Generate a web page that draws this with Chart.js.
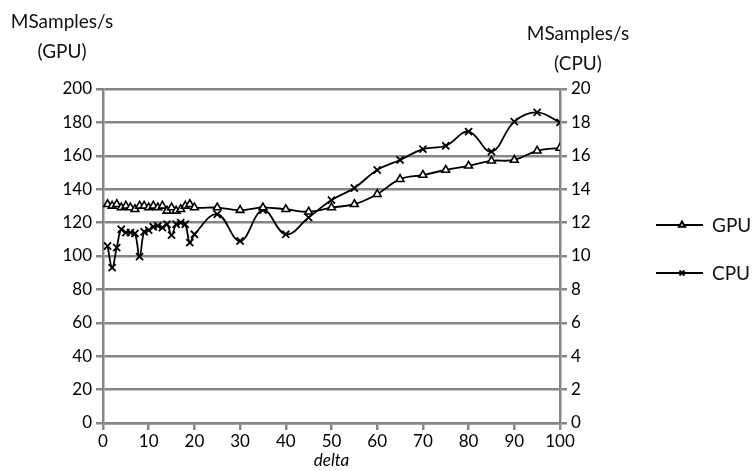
<!DOCTYPE html>
<html>
<head>
<meta charset="utf-8">
<script src="https://cdn.jsdelivr.net/npm/chart.js@4"></script>
<style>
body{margin:0;background:#fff;font-family:Lato,'Open Sans',sans-serif;}
#wrap{position:relative;width:756px;height:471px;overflow:hidden;}
.ttl{position:absolute;font-size:19px;color:#111;text-align:center;line-height:30px;}
</style>
</head>
<body>
<div id="wrap">
<canvas id="c"></canvas>
<div class="ttl" style="left:2px;top:6px;width:120px;">MSamples/s<br>(GPU)</div>
<div class="ttl" style="left:518px;top:18px;width:120px;">MSamples/s<br>(CPU)</div>
</div>
<script>
// delta values (x)
const deltas=[1,2,3,4,5,6,7,8,9,10,11,12,13,14,15,16,17,18,19,20,25,30,35,40,45,50,55,60,65,70,75,80,85,90,95,100];
// left axis, MSamples/s
const gpuVals=[131,130,131,129,130,129,128,130,130,129,130,129,130,127,129,127,128,130,131,129,129,127.5,129,128,126.5,129,131,137,146,148.5,151.5,154,157,157.5,163,164.7];
// right axis, MSamples/s
const cpuVals=[10.6,9.3,10.5,11.6,11.4,11.4,11.35,9.96,11.45,11.55,11.75,11.8,11.7,11.9,11.25,11.9,12.0,11.9,10.8,11.3,12.5,10.9,12.75,11.3,12.3,13.35,14.07,15.15,15.75,16.4,16.6,17.45,16.25,18.05,18.6,18.0];
const seriesNames=['GPU','CPU'];

const gridCol='#868686';
const tickFont={family:'Lato',size:17};

// legend on the right: line with marker in the middle, then the name
const legendPlugin={
id:'sideLegend',
afterDraw(chart){
const ctx=chart.ctx;
const ys=[225,273];
chart.data.datasets.forEach((ds,i)=>{
const y=ys[i];
ctx.save();
ctx.strokeStyle='#000';ctx.lineWidth=2;
ctx.beginPath();ctx.moveTo(656,y);ctx.lineTo(703,y);ctx.stroke();
ctx.fillStyle='#fff';ctx.strokeStyle='#000';
Chart.helpers.drawPoint(ctx,{pointStyle:ds.pointStyle,radius:3.5,borderWidth:1.5},682,y);
ctx.fillStyle='#111';ctx.font='19px Lato';ctx.textBaseline='middle';
ctx.fillText(ds.label,712,y+1);
ctx.restore();
});
}
};

new Chart(document.getElementById('c'),{
type:'line',
data:{datasets:[
{label:seriesNames[0],data:deltas.map((d,i)=>({x:d,y:gpuVals[i]})),yAxisID:'y',borderColor:'#000',borderWidth:1.8,
pointStyle:'triangle',pointRadius:4.5,pointBackgroundColor:'#fff',pointBorderColor:'#000',pointBorderWidth:1.6,tension:0.4},
{label:seriesNames[1],data:deltas.map((d,i)=>({x:d,y:cpuVals[i]})),yAxisID:'y1',borderColor:'#000',borderWidth:1.8,
pointStyle:'crossRot',pointRadius:5,pointBorderColor:'#000',pointBorderWidth:1.8,tension:0.4}
]},
options:{
responsive:true,maintainAspectRatio:false,animation:false,
layout:{padding:{top:89,right:156,left:0,bottom:0}},
plugins:{legend:{display:false},tooltip:{enabled:false}},
scales:{
x:{type:'linear',min:0,max:100,
ticks:{stepSize:10,color:'#000',font:tickFont,padding:1,maxRotation:0},
grid:{drawOnChartArea:false,color:gridCol,lineWidth:2.5,tickLength:7},
border:{color:gridCol,width:2.5},
title:{display:true,text:'delta',color:'#000',font:{family:'Lato',size:17,style:'italic'},padding:{top:0,bottom:0}},
afterFit(s){s.height=48;}
},
y:{position:'left',min:0,max:200,
ticks:{stepSize:20,color:'#000',font:tickFont,padding:4},
grid:{color:gridCol,lineWidth:2.5,tickLength:7},
border:{color:gridCol,width:2.5},
afterFit(s){s.width=103;}
},
y1:{position:'right',min:0,max:20,
ticks:{stepSize:2,color:'#000',font:tickFont,padding:4},
grid:{drawOnChartArea:false,color:gridCol,lineWidth:2.5,tickLength:7},
border:{color:gridCol,width:2.5},
afterFit(s){s.width=40;}
}
}
},
plugins:[legendPlugin]
});
</script>
</body>
</html>
